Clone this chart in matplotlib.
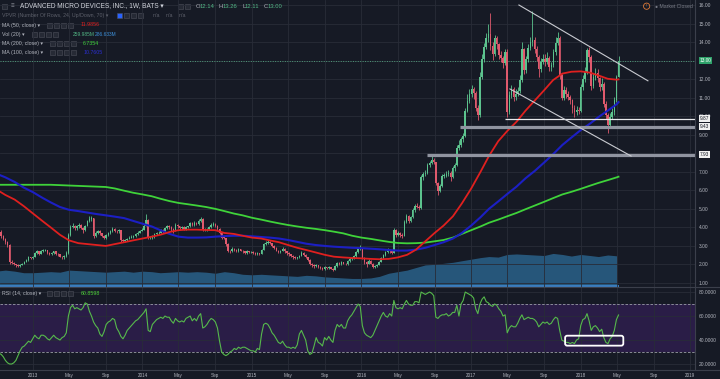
import matplotlib
matplotlib.use("Agg")
import matplotlib.pyplot as plt
from matplotlib.patches import Rectangle, FancyBboxPatch
from matplotlib.lines import Line2D
import matplotlib.dates as mdates
import numpy as np
import pandas as pd

plt.rcParams['font.family'] = ['Liberation Sans', 'DejaVu Sans']

# ---- weekly candles (AMD, 1W), Sep 2012 -> May 2018 ----
first_open = 3.95
closes_2012 = [3.75, 3.55, 3.37, 3.20, 3.05, 2.11, 2.08, 2.00, 1.96, 1.90, 1.98, 2.02, 2.15, 2.24, 2.38, 2.33, 2.40]
highs_2012 = [4.05, 3.85, 3.60, 3.45, 3.28, 3.10, 2.25, 2.15, 2.05, 2.00, 2.02, 2.08, 2.20, 2.30, 2.45, 2.42, 2.45]
lows_2012 = [3.62, 3.45, 3.30, 3.12, 2.95, 2.05, 2.00, 1.95, 1.88, 1.86, 1.87, 1.95, 2.00, 2.12, 2.20, 2.28, 2.30]

closes_2013 = [2.62, 2.70, 2.58, 2.72, 2.74, 2.78, 2.62, 2.55, 2.62, 2.70, 2.58, 2.55, 2.42, 2.38, 2.45, 2.60, 3.60,
               4.02, 4.10, 3.95, 4.05, 4.15, 3.98, 3.88, 4.08, 4.35, 4.45, 4.50, 3.55, 3.70, 3.80, 3.68, 3.55, 3.45,
               3.58, 3.70, 3.80, 3.90, 3.82, 3.78, 3.85, 3.30, 3.28, 3.32, 3.40, 3.45, 3.50, 3.55, 3.62, 3.72, 3.82, 3.87]
highs_2013 = [2.68, 2.78, 2.75, 2.80, 2.82, 2.85, 2.80, 2.66, 2.68, 2.75, 2.72, 2.62, 2.58, 2.48, 2.52, 2.70, 3.70,
              4.15, 4.25, 4.15, 4.12, 4.25, 4.20, 4.02, 4.12, 4.42, 4.60, 4.62, 4.52, 3.80, 3.88, 3.85, 3.72, 3.60,
              3.62, 3.75, 3.88, 4.00, 3.95, 3.88, 3.92, 3.88, 3.40, 3.40, 3.45, 3.52, 3.58, 3.60, 3.68, 3.80, 3.88, 3.95]
lows_2013 = [2.38, 2.58, 2.52, 2.55, 2.66, 2.70, 2.58, 2.50, 2.52, 2.58, 2.52, 2.48, 2.38, 2.30, 2.32, 2.42, 2.58,
             3.55, 3.95, 3.85, 3.88, 3.98, 3.90, 3.72, 3.82, 4.05, 4.30, 4.35, 3.45, 3.50, 3.65, 3.60, 3.50, 3.35,
             3.40, 3.52, 3.65, 3.75, 3.75, 3.68, 3.70, 3.20, 3.20, 3.22, 3.28, 3.35, 3.42, 3.45, 3.50, 3.58, 3.68, 3.78]

closes_2014 = [4.10, 4.40, 3.45, 3.45, 3.50, 3.62, 3.68, 3.72, 3.85, 3.78, 3.95, 4.05, 4.01, 3.90, 3.80, 4.15, 4.05,
               3.95, 4.02, 3.92, 4.00, 4.05, 4.22, 4.15, 4.25, 4.19, 4.35, 4.45, 3.88, 3.90, 3.90, 4.02, 4.15, 4.20,
               4.08, 3.90, 3.70, 3.45, 3.42, 3.10, 2.72, 2.70, 2.85, 2.78, 2.70, 2.82, 2.75, 2.70, 2.62, 2.72, 2.65, 2.67]
highs_2014 = [4.20, 4.70, 4.45, 3.55, 3.58, 3.68, 3.75, 3.80, 3.92, 3.90, 4.02, 4.12, 4.12, 4.05, 3.95, 4.25, 4.20,
              4.10, 4.08, 4.05, 4.05, 4.10, 4.30, 4.28, 4.35, 4.30, 4.45, 4.58, 4.50, 3.98, 3.98, 4.10, 4.22, 4.30,
              4.25, 4.12, 3.95, 3.75, 3.52, 3.45, 3.15, 2.80, 2.92, 2.90, 2.82, 2.88, 2.86, 2.80, 2.74, 2.78, 2.75, 2.72]
lows_2014 = [3.85, 4.05, 3.35, 3.35, 3.40, 3.45, 3.58, 3.62, 3.70, 3.72, 3.75, 3.90, 3.92, 3.82, 3.70, 3.78, 3.98,
             3.88, 3.90, 3.85, 3.88, 3.95, 4.02, 4.08, 4.10, 4.12, 4.15, 4.30, 3.80, 3.80, 3.80, 3.85, 3.98, 4.10,
             4.00, 3.85, 3.62, 3.38, 3.35, 3.00, 2.65, 2.62, 2.65, 2.72, 2.65, 2.68, 2.70, 2.62, 2.55, 2.58, 2.60, 2.60]

closes_2015 = [2.62, 2.55, 2.60, 2.57, 2.80, 3.10, 3.18, 3.22, 3.15, 3.00, 2.88, 2.75, 2.68, 2.75, 2.85, 2.70, 2.60,
               2.55, 2.45, 2.40, 2.35, 2.38, 2.48, 2.62, 2.52, 2.40, 2.25, 2.05, 1.95, 1.90, 1.95, 1.88, 1.82, 1.75,
               1.85, 1.80, 1.85, 1.78, 1.72, 1.92, 2.08, 2.02, 2.12, 2.05, 2.00, 2.20, 2.30, 2.35, 2.45, 2.65, 2.85, 2.87]
highs_2015 = [2.72, 2.66, 2.65, 2.64, 2.85, 3.15, 3.28, 3.30, 3.28, 3.18, 3.05, 2.92, 2.80, 2.80, 2.92, 2.88, 2.75,
              2.65, 2.58, 2.50, 2.45, 2.42, 2.52, 2.70, 2.65, 2.55, 2.42, 2.28, 2.10, 2.00, 2.00, 1.98, 1.92, 1.85,
              1.90, 1.88, 1.90, 1.88, 1.82, 1.98, 2.15, 2.12, 2.18, 2.15, 2.10, 2.25, 2.38, 2.42, 2.52, 2.72, 2.95, 3.05]
lows_2015 = [2.58, 2.50, 2.50, 2.52, 2.55, 2.78, 3.05, 3.12, 3.10, 2.95, 2.82, 2.70, 2.62, 2.62, 2.70, 2.62, 2.52,
             2.48, 2.40, 2.32, 2.28, 2.30, 2.35, 2.45, 2.48, 2.35, 2.18, 1.98, 1.88, 1.82, 1.85, 1.82, 1.76, 1.68,
             1.70, 1.75, 1.76, 1.74, 1.66, 1.70, 1.88, 1.96, 1.98, 2.00, 1.95, 1.98, 2.15, 2.25, 2.30, 2.40, 2.60, 2.78]

closes_2016 = [2.35, 2.15, 2.05, 2.20, 2.05, 1.85, 1.92, 1.98, 2.14, 2.35, 2.50, 2.65, 2.80, 2.70, 2.62, 3.85, 3.60,
               3.70, 3.60, 3.55, 4.30, 4.60, 4.35, 4.55, 4.95, 5.14, 5.12, 5.05, 6.70, 6.86, 6.95, 7.35, 7.45, 7.65,
               7.52, 6.40, 5.95, 6.25, 6.80, 6.80, 6.90, 6.95, 6.70, 7.20, 7.35, 8.30, 8.45, 8.75, 8.95, 10.30, 10.80, 11.20]
highs_2016 = [2.90, 2.40, 2.20, 2.28, 2.25, 2.08, 1.98, 2.05, 2.20, 2.42, 2.58, 2.72, 2.88, 2.85, 2.78, 3.99, 3.92,
              3.80, 3.75, 3.68, 4.40, 4.72, 4.65, 4.62, 5.05, 5.25, 5.30, 5.20, 6.85, 7.00, 7.10, 7.45, 7.60, 7.95,
              7.75, 7.55, 6.45, 6.35, 6.90, 6.95, 7.05, 7.10, 7.05, 7.30, 7.45, 8.45, 8.70, 8.90, 9.10, 10.45, 11.20, 11.45]
lows_2016 = [2.30, 2.05, 1.85, 2.00, 2.00, 1.80, 1.80, 1.88, 1.95, 2.12, 2.30, 2.45, 2.60, 2.62, 2.55, 2.60, 3.50,
             3.52, 3.50, 3.45, 3.52, 4.25, 4.25, 4.30, 4.50, 4.85, 5.05, 4.95, 5.00, 6.55, 6.80, 6.90, 7.25, 7.40,
             7.40, 6.30, 5.75, 5.90, 6.20, 6.65, 6.70, 6.80, 6.50, 6.65, 7.05, 7.30, 8.20, 8.35, 8.60, 8.90, 10.20, 10.70]

closes_2017 = [11.45, 11.25, 10.45, 10.05, 12.10, 13.10, 13.75, 14.20, 14.45, 13.80, 13.35, 14.20, 13.88, 13.30,
               13.15, 12.85, 13.45, 10.25, 11.15, 11.45, 11.05, 11.20, 11.35, 11.95, 13.60, 12.48, 13.10, 13.70,
               14.00, 14.10, 13.62, 13.20, 12.55, 12.95, 13.10, 12.95, 13.15, 12.65, 12.75, 13.45, 13.95, 14.20,
               12.20, 11.00, 11.40, 11.20, 11.05, 10.90, 10.45, 10.20, 10.35, 10.28]
highs_2017 = [11.70, 11.60, 11.35, 10.60, 12.40, 13.35, 13.95, 14.50, 15.00, 15.55, 14.00, 14.40, 14.35, 13.95,
              13.50, 13.25, 13.60, 13.60, 11.35, 11.70, 11.55, 11.45, 11.60, 12.20, 14.00, 13.70, 13.25, 13.90,
              14.30, 15.65, 14.25, 13.80, 13.30, 13.15, 13.35, 13.35, 13.45, 13.25, 12.95, 13.60, 14.25, 14.55,
              14.35, 12.30, 11.65, 11.55, 11.35, 11.15, 10.95, 10.60, 10.55, 10.50]
lows_2017 = [11.05, 10.95, 10.30, 9.80, 9.95, 12.00, 12.95, 13.60, 14.00, 13.55, 13.05, 13.25, 13.60, 13.10,
             12.90, 12.60, 12.75, 9.95, 10.10, 11.00, 10.80, 10.90, 11.10, 11.25, 11.85, 12.30, 12.35, 12.95,
             13.55, 13.80, 13.40, 13.00, 12.10, 12.40, 12.80, 12.70, 12.80, 12.45, 12.45, 12.65, 13.30, 13.85,
             12.00, 10.85, 10.90, 11.00, 10.85, 10.65, 10.15, 9.95, 10.05, 10.10]

closes_2018 = [11.55, 12.00, 12.40, 13.55, 13.20, 11.65, 12.10, 12.35, 12.05, 11.55, 11.75, 10.65, 10.05, 9.55,
               9.95, 10.20, 10.85, 12.14, 13.00]
highs_2018 = [11.75, 12.25, 12.65, 13.70, 13.75, 13.30, 12.35, 12.60, 12.55, 12.10, 12.05, 11.85, 10.80, 10.15,
              10.15, 10.45, 11.05, 12.25, 13.26]
lows_2018 = [10.25, 11.40, 11.85, 12.30, 12.90, 11.40, 11.50, 11.95, 11.85, 11.35, 11.40, 10.50, 9.85, 9.10,
             9.40, 9.85, 10.05, 10.75, 12.11]

closes = closes_2012 + closes_2013 + closes_2014 + closes_2015 + closes_2016 + closes_2017 + closes_2018
highs = highs_2012 + highs_2013 + highs_2014 + highs_2015 + highs_2016 + highs_2017 + highs_2018
lows = lows_2012 + lows_2013 + lows_2014 + lows_2015 + lows_2016 + lows_2017 + lows_2018

# RSI(14), weekly
rsi = ([29, 28, 26, 23, 21, 20, 20, 21, 23, 27, 31, 34, 35, 37, 39, 38, 41]
       + [44, 42, 41, 44, 44, 43, 41, 40, 42, 44, 42, 41, 40, 42, 43, 46, 60, 67, 69, 66, 67, 66, 65, 67, 71, 70,
          64, 60, 55, 52, 50, 45, 43, 47, 53, 55, 56, 58, 57, 50, 47, 43, 41, 44, 48, 50, 52, 54, 56, 57, 59, 61]
       + [63, 66, 48, 47, 53, 55, 57, 58, 59, 58, 60, 59, 59, 56, 54, 58, 56, 55, 56, 55, 58, 59, 60, 56, 58, 56,
          60, 62, 50, 51, 53, 56, 58, 57, 55, 50, 39, 30, 28, 27, 28, 30, 31, 33, 32, 34, 33, 34, 34, 33, 32, 31]
       + [31, 30, 33, 32, 45, 53, 54, 53, 50, 46, 44, 41, 38, 37, 39, 36, 34, 34, 33, 34, 33, 36, 45, 48, 44, 40,
          31, 28, 29, 35, 42, 38, 37, 35, 42, 40, 43, 40, 38, 48, 53, 51, 53, 50, 50, 56, 59, 61, 64, 67, 70, 68]
       + [52, 46, 44, 43, 42, 44, 48, 52, 56, 60, 63, 60, 59, 62, 60, 73, 67, 66, 67, 66, 70, 73, 70, 69, 69, 72,
          72, 71, 80, 79, 78, 79, 80, 79, 77, 59, 58, 60, 61, 61, 62, 60, 61, 63, 63, 69, 60, 70, 73, 80, 79, 78]
       + [77, 75, 66, 62, 70, 74, 76, 72, 71, 69, 68, 70, 69, 66, 64, 60, 61, 46, 50, 52, 51, 51, 54, 58, 61, 57,
          58, 59, 58, 58, 57, 55, 51, 53, 55, 54, 55, 53, 54, 57, 59, 58, 48, 40, 39, 38, 38, 37, 38, 37, 40, 41]
       + [52, 57, 58, 62, 56, 48, 51, 52, 50, 47, 49, 42, 38, 37, 41, 43, 48, 57, 60.86])

# monthly moving averages (Sep 2012 .. May 2018, plus last bar)
ma50 = ([6.05, 5.75, 5.5, 5.15]
        + [4.75, 4.35, 4.0, 3.6, 3.3, 3.15, 3.1, 3.05, 3.0, 3.1, 3.2, 3.3]
        + [3.4, 3.5, 3.6, 3.75, 3.85, 3.88, 3.88, 3.86, 3.85, 3.7, 3.65, 3.55]
        + [3.45, 3.4, 3.3, 3.2, 3.05, 2.9, 2.78, 2.65, 2.52, 2.42, 2.38, 2.35]
        + [2.33, 2.3, 2.28, 2.3, 2.38, 2.52, 2.8, 3.25, 3.7, 4.1, 4.6, 5.3]
        + [6.1, 7.0, 7.85, 8.65, 9.2, 9.7, 10.3, 10.85, 11.4, 11.95, 12.3, 12.4]
        + [12.42, 12.35, 12.2, 12.02, 11.97, 11.9856])
ma100 = ([6.9, 6.7, 6.45, 6.15]
         + [5.9, 5.6, 5.35, 5.1, 4.95, 4.88, 4.8, 4.72, 4.65, 4.58, 4.5, 4.35]
         + [4.2, 4.05, 3.85, 3.65, 3.5, 3.45, 3.45, 3.46, 3.5, 3.53, 3.55, 3.55]
         + [3.52, 3.48, 3.45, 3.4, 3.32, 3.22, 3.12, 3.05, 3.0, 2.96, 2.93, 2.9]
         + [2.88, 2.85, 2.82, 2.78, 2.75, 2.75, 2.8, 2.9, 3.05, 3.2, 3.4, 3.7]
         + [4.1, 4.55, 5.0, 5.4, 5.8, 6.2, 6.65, 7.05, 7.5, 7.95, 8.45, 8.85]
         + [9.25, 9.6, 9.95, 10.3, 10.65, 10.76])
ma200 = ([6.3, 6.3, 6.3, 6.3]
         + [6.3, 6.3, 6.3, 6.28, 6.26, 6.24, 6.22, 6.2, 6.18, 6.1, 5.98, 5.87]
         + [5.78, 5.68, 5.55, 5.42, 5.32, 5.25, 5.18, 5.1, 5.0, 4.88, 4.75, 4.65]
         + [4.52, 4.42, 4.32, 4.22, 4.13, 4.05, 3.98, 3.92, 3.85, 3.77, 3.68, 3.55]
         + [3.45, 3.38, 3.3, 3.22, 3.16, 3.14, 3.15, 3.18, 3.25, 3.32, 3.45, 3.65]
         + [3.85, 4.05, 4.25, 4.42, 4.6, 4.78, 4.98, 5.18, 5.38, 5.58, 5.78, 5.92]
         + [6.08, 6.25, 6.4, 6.55, 6.7, 6.7354])
# volume MA(20), millions, monthly
vol_ma = ([140, 150, 140, 125]
          + [125, 130, 135, 130, 150, 145, 140, 135, 130, 135, 140, 130]
          + [140, 135, 125, 130, 135, 130, 135, 130, 120, 135, 125, 110]
          + [105, 110, 105, 100, 95, 90, 100, 95, 85, 80, 75, 70]
          + [70, 75, 90, 120, 135, 150, 175, 200, 205, 215, 225, 240]
          + [255, 270, 280, 275, 300, 305, 300, 295, 290, 310, 300, 285]
          + [300, 290, 280, 295, 287])

# drawn levels / channel
levels = [9.87, 9.43, 7.93]
level_start = ['2017-04-24', '2016-11-25', '2016-08-07']
channel_top = (['2017-06-09', '2018-08-13'], [16.0, 11.91])
channel_bot = (['2017-05-10', '2018-06-18'], [11.47, 7.85])

weeks = pd.date_range(end='2018-05-07', periods=len(closes), freq='W-MON')
months = pd.date_range('2012-09-01', periods=len(vol_ma), freq='MS')
ma_dates = months.append(pd.DatetimeIndex([weeks[-1]]))

BG = '#161a25'
GRID = '#282c38'
TXT = '#b2b5be'
UP, DOWN = '#5cc38e', '#e05a6d'
W, H = 720, 379


def fx(px):
    return px / W


def fy(py):
    return 1 - py / H


fig = plt.figure(figsize=(7.2, 3.79), dpi=100)
fig.patch.set_facecolor(BG)

vx = fig.add_axes([0, fy(287), fx(695), 287 / H], zorder=0)
ax = fig.add_axes([0, fy(287), fx(695), 287 / H], zorder=1, sharex=vx)
rx = fig.add_axes([0, fy(370), fx(695), 83 / H], sharex=vx)
ax.set_facecolor('none')
rx.set_facecolor(BG)
vx.set_axis_off()

x0 = pd.Timestamp('2012-09-13')
x1 = pd.Timestamp('2019-01-17')
ax.set_xlim(x0, x1)
ax.set_ylim(0.784, 16.27)
rx.set_ylim(15, 84.2)
vx.set_ylim(-12, 2741)

# volume MA area
vx.fill_between(months, 0, vol_ma, color='#2b6690', alpha=0.8, lw=0)
vx.hlines(0, months[0], weeks[-1], color='#3c7fc0', lw=1.4)

# candles
c = np.array(closes)
o = np.array([first_open] + closes[:-1])
col = np.where(c >= o, UP, DOWN)
ax.vlines(weeks, lows, highs, colors=col, lw=0.6, zorder=3)
ax.bar(weeks, np.maximum(np.abs(c - o), 0.04), bottom=np.minimum(o, c), width=5.0,
       color=col, lw=0, zorder=3)

# moving averages
ax.plot(ma_dates, ma200, color='#3fd33a', lw=1.3, zorder=4)
ax.plot(ma_dates, ma100, color='#1c1fc4', lw=1.5, zorder=4)
ax.plot(ma_dates, ma50, color='#e0201f', lw=1.3, zorder=4)

# current price line
ax.axhline(closes[-1], color='#4f9a7a', lw=0.7, ls=(0, (1, 1.5)), zorder=2)

# levels and channel
ax.hlines(levels[0], pd.Timestamp(level_start[0]), x1, color='#e8e9ec', lw=0.9, zorder=5)
ax.hlines(levels[1], pd.Timestamp(level_start[1]), x1, color='#9094a0', lw=2.3, zorder=5)
ax.hlines(levels[2], pd.Timestamp(level_start[2]), x1, color='#9094a0', lw=2.3, zorder=5)
ax.plot(pd.to_datetime(channel_top[0]), channel_top[1], color='#c9cbd1', lw=0.8, zorder=5)
ax.plot(pd.to_datetime(channel_bot[0]), channel_bot[1], color='#c9cbd1', lw=0.8, zorder=5)


def price_tag(y, text, fc, tc):
    ax.annotate(text, xy=(1, y), xycoords=('axes fraction', 'data'), xytext=(3.2, 0),
                textcoords='offset points', ha='left', va='center', fontsize=3.4, color=tc,
                bbox=dict(boxstyle='square,pad=0.2', fc=fc, ec='none'),
                annotation_clip=False, zorder=10)


price_tag(closes[-1], '%.2f' % closes[-1], '#2ea26a', 'white')
for lv in levels:
    price_tag(lv, '%.2f' % lv, '#f0f0f0', '#131722')

# RSI pane
rx.axhspan(30, 70, color='#2a1d47', lw=0, zorder=0)
rx.axhline(70, color='#9a9da6', lw=0.6, ls=(0, (3, 2)), zorder=2)
rx.axhline(30, color='#9a9da6', lw=0.6, ls=(0, (3, 2)), zorder=2)
rx.plot(weeks, rsi, color='#56b94c', lw=0.8, zorder=3)
bx0 = mdates.date2num(pd.Timestamp('2017-11-10'))
bx1 = mdates.date2num(pd.Timestamp('2018-05-23'))
rx.add_patch(FancyBboxPatch((bx0, 35.3), bx1 - bx0, 8.3,
                            boxstyle='round,pad=0,rounding_size=7', mutation_aspect=0.25,
                            fc='none', ec='white', lw=1.3, zorder=5))

# ticks and grid
tick_dates, tick_labels = [], []
for yr in range(2013, 2019):
    for m, lab in [(1, str(yr)), (5, 'May'), (9, 'Sep')]:
        tick_dates.append(pd.Timestamp(yr, m, 1))
        tick_labels.append(lab)
tick_dates.append(pd.Timestamp(2019, 1, 1))
tick_labels.append('2019')

for a in (ax, rx):
    for s in a.spines.values():
        s.set_visible(False)
    a.yaxis.tick_right()
    a.grid(True, color=GRID, lw=0.6)
    a.set_axisbelow(True)
    a.tick_params(axis='both', length=0, labelsize=3.5, labelcolor=TXT, pad=2.9)

ax.set_xticks(tick_dates)
rx.set_xticks(tick_dates)
rx.set_xticklabels(tick_labels)
ax.tick_params(axis='x', labelbottom=False)
rx.tick_params(axis='x', labelsize=3.3, pad=2.0)
ax.set_yticks(range(1, 17))
ax.set_yticklabels(['%.2f' % v for v in range(1, 17)])
rx.set_yticks([20, 40, 60, 80])
rx.set_yticklabels(['%.4f' % v for v in [20, 40, 60, 80]])

# separators
sep = '#3b3f4b'
fig.add_artist(Line2D([0, 1], [fy(287), fy(287)], transform=fig.transFigure, color=sep, lw=0.8))
fig.add_artist(Line2D([0, 1], [fy(370), fy(370)], transform=fig.transFigure, color=sep, lw=0.8))
fig.add_artist(Line2D([fx(695), fx(695)], [fy(370), 1], transform=fig.transFigure, color=sep, lw=0.8))


# legend / header texts
def squares(x, y, n, step=7):
    for i in range(n):
        fig.add_artist(Rectangle((fx(x + i * step), fy(y + 2.5)), 5 / W, 5 / H, transform=fig.transFigure,
                                 fc='#262a35', ec='#4d505b', lw=0.4))


def t(x, y, s, color=TXT, size=3.8, **kw):
    fig.text(fx(x), fy(y), s, color=color, fontsize=size, va='center', ha='left', **kw)


squares(2, 6, 1)
t(11, 6, '≡', color='#8a8d96', size=4.5)
t(20, 6, 'ADVANCED MICRO DEVICES, INC., 1W, BATS ▾', color='#d1d4dc', size=4.7)
squares(178, 6, 2)
for xo, lab, xv, val in [(196, 'O', 200, '12.14'), (219, 'H', 223, '13.26'),
                         (242, 'L', 245, '12.11'), (264, 'C', 268, '13.00')]:
    t(xo, 6, lab, color=TXT, size=4.2)
    t(xv, 6, val, color='#53b987', size=4.2)

t(2, 15.7, 'VPVR (Number Of Rows, 24, Up/Down, 70) ▾', color='#5d606b')
fig.add_artist(Rectangle((fx(117), fy(18.2)), 5 / W, 5 / H, transform=fig.transFigure,
                         fc='#2962ff', ec='#4d505b', lw=0.4))
squares(124, 15.7, 3)
for xn in (153, 166, 179):
    t(xn, 15.7, 'n/a', color='#5d606b')

t(2, 25, 'MA (50, close) ▾')
squares(47, 25, 4)
t(81, 25, '11.9856', color='#e0201f')
t(2, 34.3, 'Vol (20) ▾')
squares(32, 34.3, 4)
t(73, 34.3, '259.985M', color='#53b987', size=3.5)
t(95, 34.3, '286.633M', color='#3d8fd8', size=3.5)
t(2, 43.3, 'MA (200, close) ▾')
squares(50, 43.3, 4)
t(83, 43.3, '6.7354', color='#3fd33a')
t(2, 52.7, 'MA (100, close) ▾')
squares(50, 52.7, 4)
t(84, 52.7, '10.7605', color='#2a2ed0')

t(2, 293.3, 'RSI (14, close) ▾')
squares(47, 293.3, 4)
t(81, 293.3, '60.8598', color='#4cd137')

t(646, 6.2, '!', color='#e07b39', size=3.2,
  bbox=dict(boxstyle='circle,pad=0.25', fc='none', ec='#e07b39', lw=0.6))
t(655, 6, '● Market Closed', color='#787b86', size=3.7)

fig.savefig('out.png', dpi=100, facecolor=BG)
